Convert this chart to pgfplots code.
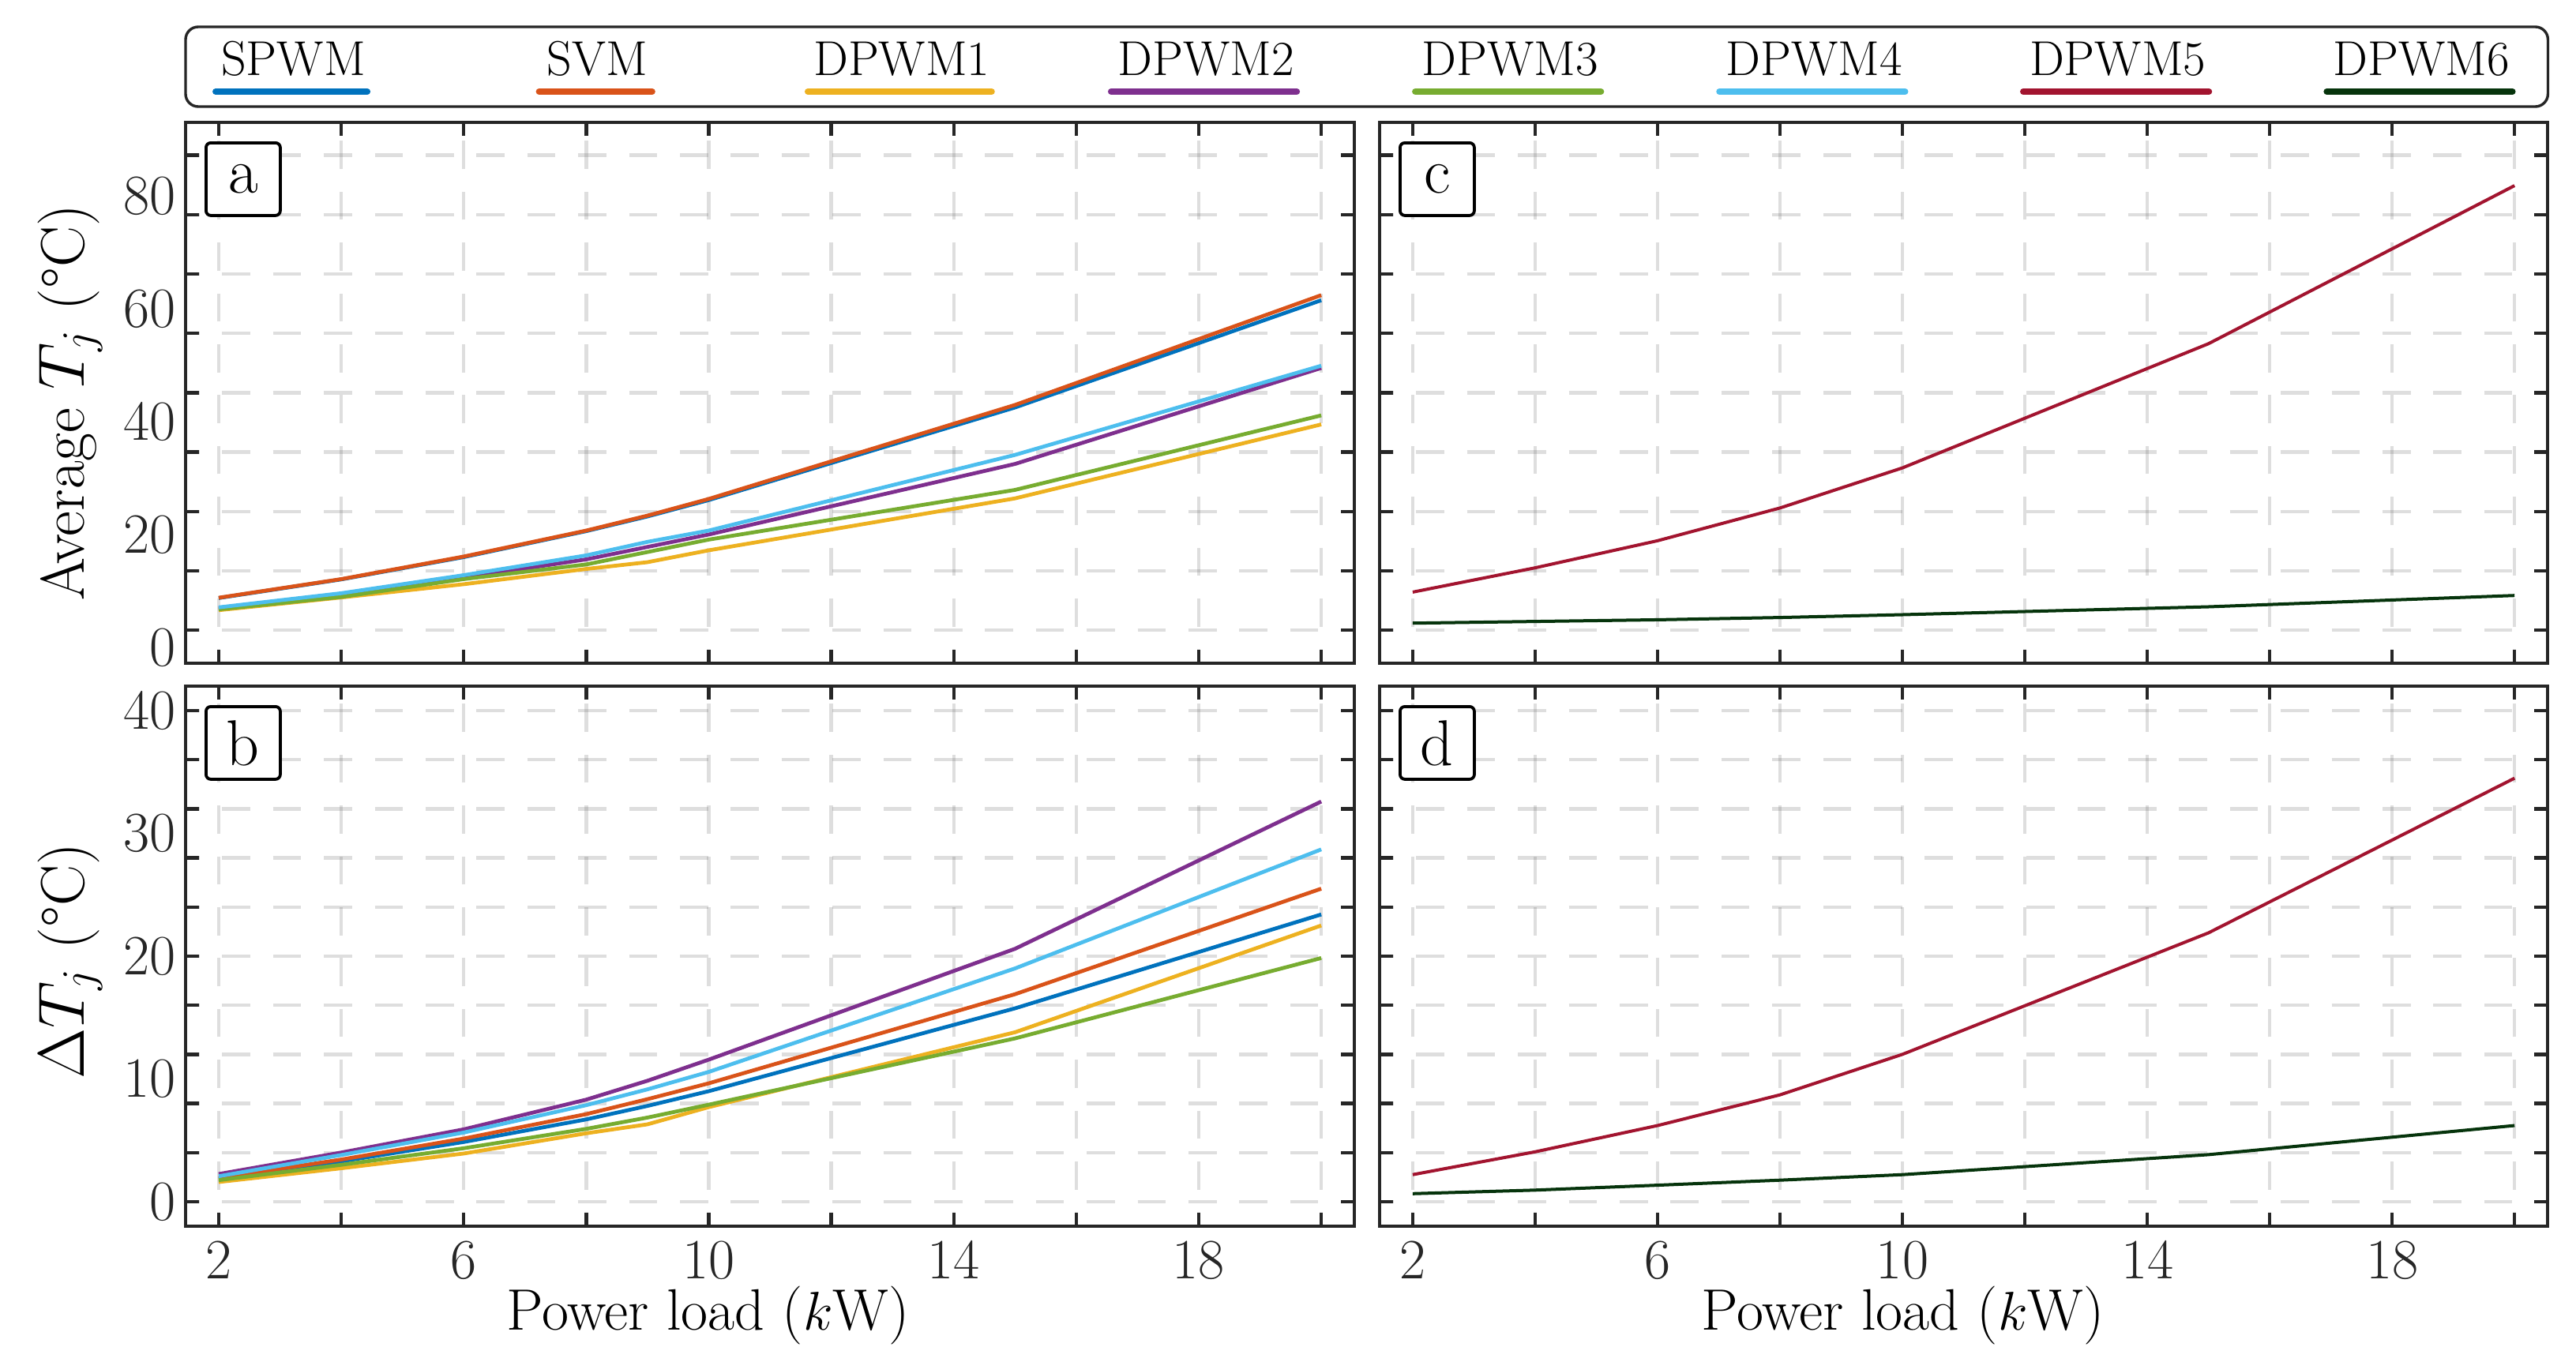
\documentclass[border=0pt]{standalone}
\usepackage{fontspec}
\usepackage{pgfplots}
\pgfplotsset{compat=1.18}
\definecolor{axgray}{RGB}{38,38,38}
\definecolor{cSPWM}{rgb}{0,0.447,0.741}
\definecolor{cSVM}{rgb}{0.85,0.325,0.098}
\definecolor{cD1}{rgb}{0.929,0.694,0.125}
\definecolor{cD2}{rgb}{0.494,0.184,0.556}
\definecolor{cD3}{rgb}{0.466,0.674,0.188}
\definecolor{cD4}{rgb}{0.301,0.745,0.933}
\definecolor{cD5}{rgb}{0.635,0.078,0.184}
\definecolor{cD6}{RGB}{6,52,12}
\tikzset{
  tag/.style={draw=black, line width=0.95pt, rounded corners=1.5pt, fill=white,
    minimum width=23.5pt, minimum height=23pt, inner sep=0pt,
    font=\fontsize{20.5}{24}\selectfont, anchor=north west, xshift=6pt, yshift=-6pt},
}
\pgfplotsset{
  legimg/.style n args={2}{legend image code/.code={\path (0,0); \draw[##1, overlay, line width=2pt, line cap=round] (#1,-5.25pt) -- (#2,-5.25pt);}},
  panel/.style={
    scale only axis, width=370pt,
    xmin=1.46, xmax=20.54,
    xtick={2,4,...,20},
    axis line style={line width=0.9pt, draw=axgray},
    tick style={line width=1.1pt, color=axgray},
    major tick length=4.25pt,
    tick align=inside,
    grid=major,
    major grid style={line width=1.1pt, draw=black!80, draw opacity=0.16, dash pattern=on 8.9pt off 7.2pt, dash phase=4.5pt},
    tick label style={font=\fontsize{18}{20}\selectfont, text=axgray},
    xticklabel style={inner sep=0pt, anchor=north, yshift=-4.5pt},
    yticklabel style={inner sep=0pt, anchor=east, xshift=-3pt},
    label style={font=\fontsize{18.5}{22}\selectfont},
    every axis plot/.append style={line width=1.2pt, line join=round, no markers},
  },
  topy/.style={
    ymin=-2.8, ymax=93.0,
    ytick={3.05,13.57,24.08,34.60,45.12,55.63,66.15,76.67,87.18},
  },
  boty/.style={
    ymin=-2, ymax=42,
    ytick={0,4,...,40},
  },
}
\begin{document}
\begin{tikzpicture}
\path[use as bounding box] (0,0) rectangle (815.5pt,-431pt);
% legend frame
\draw[axgray, line width=0.85pt, rounded corners=4pt] (58.75pt,-8.5pt) rectangle (806.6pt,-33.75pt);
% ---------------- panel a ----------------
\begin{axis}[panel, topy,
  at={(58.75pt,-38.75pt)}, anchor=north west, height=171.25pt,
  xticklabels={}, yticklabels={},
  extra y ticks={0,20,40,60,80}, extra y tick labels={0,20,40,60,80},
  extra y tick style={grid=none, tick style={draw=none}},
  ylabel={Average $T_j$ (°C)},
  ylabel style={at={(axis description cs:-0.0986,0.4818)}, anchor=center, font=\fontsize{19.5}{22}\selectfont},
  legend columns=8,
  legend style={at={(axis description cs:1.0009,1.1029)}, anchor=center,
    draw=none, fill=none,
    inner xsep=5.2pt, inner ysep=2pt,
    /tikz/every odd column/.style={column sep=0pt},
    /tikz/every even column/.style={column sep=33.09pt},
    cells={anchor=base west},
    nodes={inner sep=0pt, text width=62pt, align=center, text height=13.25pt, text depth=8pt,
      font=\fontsize{15.5}{18}\selectfont}},
]
\addplot[cSPWM, legimg={7pt}{55pt}]
  coordinates {(2,8.75)(4,12.05)(6,16.0)(8,20.6)(9,23.2)(10,26.1)(15,42.5)(20,61.5)};
\addlegendentry{SPWM}
\addplot[cSVM, legimg={13.1pt}{48.9pt}]
  coordinates {(2,8.8)(4,12.1)(6,16.1)(8,20.7)(9,23.35)(10,26.3)(15,42.95)(20,62.4)};
\addlegendentry{SVM}
\addplot[cD1, legimg={1.9pt}{60.1pt}]
  coordinates {(2,6.6)(4,8.85)(6,11.2)(8,13.9)(9,15.1)(10,17.2)(15,26.4)(20,39.5)};
\addlegendentry{DPWM1}
\addplot[cD2, legimg={1.6pt}{60.4pt}]
  coordinates {(2,6.9)(4,9.0)(6,12.35)(8,15.6)(9,17.8)(10,20.0)(15,32.5)(20,49.5)};
\addlegendentry{DPWM2}
\addplot[cD3, legimg={1.6pt}{60.4pt}]
  coordinates {(2,6.75)(4,8.95)(6,12.1)(8,14.7)(9,16.9)(10,19.1)(15,27.9)(20,41.1)};
\addlegendentry{DPWM3}
\addplot[cD4, legimg={1.6pt}{60.4pt}]
  coordinates {(2,7.1)(4,9.6)(6,12.8)(8,16.3)(9,18.7)(10,20.7)(15,34.1)(20,49.9)};
\addlegendentry{DPWM4}
\addlegendimage{cD5, line width=1pt, legimg={1.6pt}{60.4pt}}
\addlegendentry{DPWM5}
\addlegendimage{cD6, line width=1pt, legimg={1.6pt}{60.4pt}}
\addlegendentry{DPWM6}
\node[tag] at (rel axis cs:0,1) {a};
\end{axis}
% ---------------- panel b ----------------
\begin{axis}[panel, boty,
  at={(58.75pt,-217.25pt)}, anchor=north west, height=171pt,
  xticklabels={2,,6,,10,,14,,18,}, yticklabels={},
  extra y ticks={0,10,20,30,40}, extra y tick labels={0,10,20,30,40},
  extra y tick style={grid=none, tick style={draw=none}},
  ylabel={$\Delta T_j$ (°C)},
  ylabel style={at={(axis description cs:-0.0986,0.491)}, anchor=center, font=\fontsize{19.5}{22}\selectfont},
  xlabel={Power load ($k$W)},
  xlabel style={at={(axis description cs:0.447,0)}, anchor=base, yshift=-32.75pt},
]
\addplot[cSPWM] coordinates {(2,1.87)(4,3.28)(6,4.86)(8,6.7)(9,7.8)(10,9.0)(15,15.75)(20,23.4)};
\addplot[cSVM] coordinates {(2,1.93)(4,3.43)(6,5.14)(8,7.13)(9,8.35)(10,9.64)(15,16.9)(20,25.5)};
\addplot[cD1] coordinates {(2,1.6)(4,2.72)(6,3.92)(8,5.57)(9,6.3)(10,7.7)(15,13.8)(20,22.5)};
\addplot[cD2] coordinates {(2,2.25)(4,4.0)(6,5.89)(8,8.31)(9,9.85)(10,11.57)(15,20.6)(20,32.6)};
\addplot[cD3] coordinates {(2,1.75)(4,3.0)(6,4.35)(8,5.93)(9,6.85)(10,7.9)(15,13.3)(20,19.85)};
\addplot[cD4] coordinates {(2,2.07)(4,3.8)(6,5.63)(8,7.86)(9,9.15)(10,10.57)(15,19.0)(20,28.7)};
\node[tag] at (rel axis cs:0,1) {b};
\end{axis}
% ---------------- panel c ----------------
\begin{axis}[panel, topy,
  at={(436.75pt,-38.75pt)}, anchor=north west, width=369.75pt, height=171.25pt,
  xticklabels={}, yticklabels={},
  every axis plot/.append style={line width=1pt},
]
\addplot[cD5] coordinates {(2,9.8)(4,14.1)(6,18.9)(8,24.7)(10,31.8)(15,53.8)(20,81.8)};
\addplot[cD6] coordinates {(2,4.3)(4,4.6)(6,4.9)(8,5.3)(10,5.8)(15,7.2)(20,9.2)};
\node[tag] at (rel axis cs:0,1) {c};
\end{axis}
% ---------------- panel d ----------------
\begin{axis}[panel, boty,
  at={(436.75pt,-217.25pt)}, anchor=north west, width=369.75pt, height=171pt,
  xticklabels={2,,6,,10,,14,,18,}, yticklabels={},
  xlabel={Power load ($k$W)},
  xlabel style={at={(axis description cs:0.448,0)}, anchor=base, yshift=-32.75pt},
  every axis plot/.append style={line width=1pt},
]
\addplot[cD5] coordinates {(2,2.2)(4,4.06)(6,6.2)(8,8.7)(10,12.0)(15,21.9)(20,34.5)};
\addplot[cD6] coordinates {(2,0.65)(4,0.94)(6,1.34)(8,1.75)(10,2.2)(15,3.83)(20,6.2)};
\node[tag] at (rel axis cs:0,1) {d};
\end{axis}
\end{tikzpicture}
\end{document}
